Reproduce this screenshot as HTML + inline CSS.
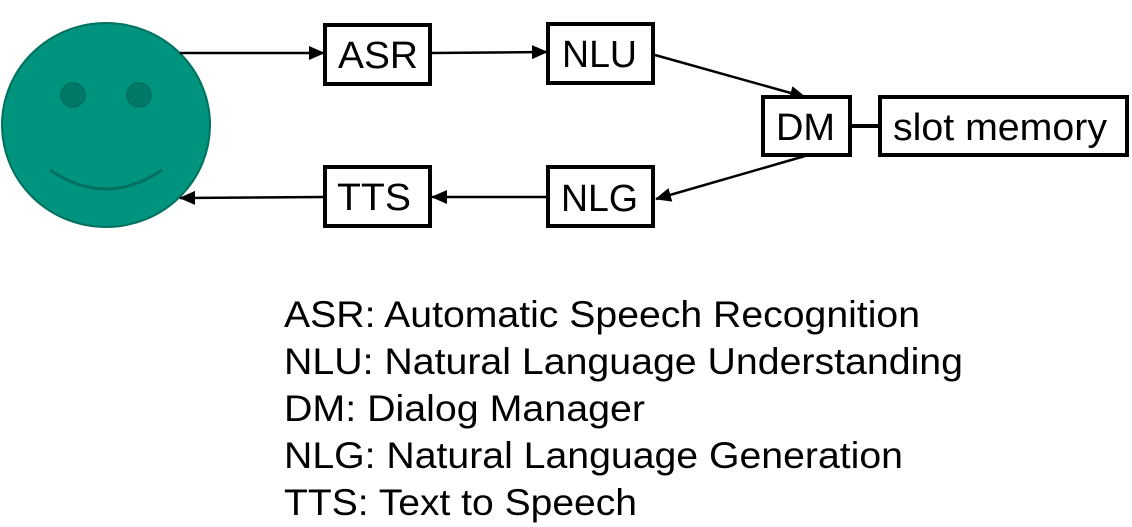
<!DOCTYPE html>
<html><head><style>
html,body{margin:0;padding:0;background:#fff;}
svg{display:block;}
text{font-family:"Liberation Sans",Arial,sans-serif;fill:#000;}
</style></head><body>
<svg width="1132" height="527" viewBox="0 0 1132 527" xmlns="http://www.w3.org/2000/svg">
<defs>
<marker id="b" markerWidth="16" markerHeight="14" refX="15" refY="7" orient="auto" markerUnits="userSpaceOnUse" viewBox="0 0 16 14">
<path d="M0,0 L16,7 L0,14 z" fill="#000"/>
</marker>
</defs>
<ellipse cx="106" cy="125" rx="104" ry="102" fill="#00937e" stroke="#00705f" stroke-width="2"/>
<ellipse cx="73" cy="95" rx="12" ry="12" fill="#007a66" stroke="#006e5c" stroke-width="1.5"/>
<ellipse cx="139" cy="95" rx="12" ry="12" fill="#007a66" stroke="#006e5c" stroke-width="1.5"/>
<path d="M50,170 Q106,208 162,170" fill="none" stroke="#007060" stroke-width="3"/>

<g stroke="#000" stroke-width="2.5" fill="none">
<line x1="180" y1="53" x2="324" y2="53" marker-end="url(#b)"/>
<line x1="431" y1="53" x2="547" y2="52" marker-end="url(#b)"/>
<line x1="655" y1="55" x2="805" y2="97" marker-end="url(#b)"/>
<line x1="805" y1="156" x2="656" y2="199" marker-end="url(#b)"/>
<line x1="547" y1="197" x2="432" y2="197" marker-end="url(#b)"/>
<line x1="324" y1="197" x2="180" y2="198" marker-end="url(#b)"/>
<line x1="851" y1="126" x2="880" y2="126" stroke-width="4"/>
</g>
<g stroke="#000" stroke-width="4" fill="#fff">
<rect x="325" y="25" width="105" height="59"/>
<rect x="548" y="24" width="105" height="59"/>
<rect x="763" y="97" width="87" height="58"/>
<rect x="880" y="97" width="247" height="58"/>
<rect x="325" y="167" width="105" height="59"/>
<rect x="548" y="167" width="105" height="59"/>
</g>
<g font-size="38" lengthAdjust="spacingAndGlyphs">
<text x="338" y="68" textLength="80" lengthAdjust="spacingAndGlyphs">ASR</text>
<text x="562" y="67" textLength="75" lengthAdjust="spacingAndGlyphs">NLU</text>
<text x="776" y="140" textLength="59" lengthAdjust="spacingAndGlyphs">DM</text>
<text x="893" y="140" textLength="214" lengthAdjust="spacingAndGlyphs">slot memory</text>
<text x="337" y="210" textLength="74" lengthAdjust="spacingAndGlyphs">TTS</text>
<text x="561" y="211" textLength="77" lengthAdjust="spacingAndGlyphs">NLG</text>
</g>
<g font-size="37">
<text x="284" y="327" textLength="636" lengthAdjust="spacingAndGlyphs">ASR: Automatic Speech Recognition</text>
<text x="284" y="374" textLength="679" lengthAdjust="spacingAndGlyphs">NLU: Natural Language Understanding</text>
<text x="284" y="421" textLength="361" lengthAdjust="spacingAndGlyphs">DM: Dialog Manager</text>
<text x="284" y="468" textLength="619" lengthAdjust="spacingAndGlyphs">NLG: Natural Language Generation</text>
<text x="284" y="515" textLength="353" lengthAdjust="spacingAndGlyphs">TTS: Text to Speech</text>
</g>
</svg>
</body></html>
